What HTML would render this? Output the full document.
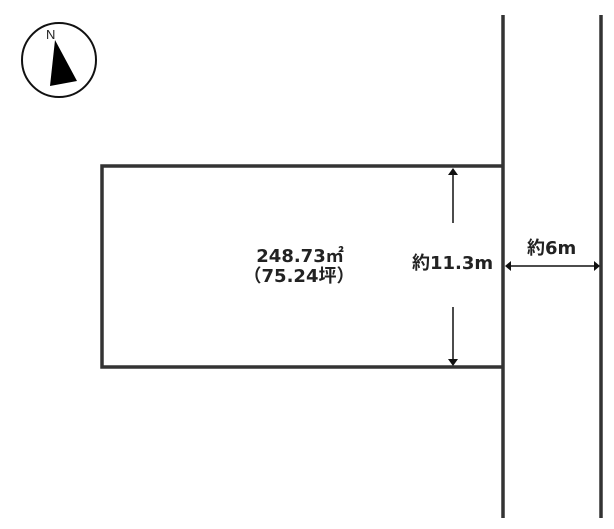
<!DOCTYPE html>
<html><head><meta charset="utf-8"><style>
html,body{margin:0;padding:0;background:#fff;width:614px;height:529px;overflow:hidden}
svg text{font-family:"DejaVu Sans","Noto Sans CJK JP",sans-serif;font-weight:bold;fill:#222}
</style></head><body>
<svg width="614" height="529" viewBox="0 0 614 529" xmlns="http://www.w3.org/2000/svg">
<circle cx="59" cy="60" r="37" fill="none" stroke="#111" stroke-width="2"/>
<polygon points="55,40 77,81 50,86" fill="#000"/>
<text x="46" y="39" font-size="13" style="font-weight:normal;font-family:'Liberation Sans',sans-serif">N</text>
<g stroke="#333" stroke-width="3.5" fill="none">
<polyline points="503,166 102,166 102,367 503,367"/>
<line x1="503" y1="15" x2="503" y2="518"/>
<line x1="601" y1="15" x2="601" y2="518"/>
</g>
<g stroke="#111" stroke-width="1.5">
<line x1="453" y1="172" x2="453" y2="223"/>
<line x1="453" y1="307" x2="453" y2="362"/>
<line x1="508" y1="266" x2="597" y2="266"/>
</g>
<g fill="#111">
<polygon points="453,168 448,175 458,175"/>
<polygon points="453,366 448,359 458,359"/>
<polygon points="505,266 511,261 511,271"/>
<polygon points="600,266 594,261 594,271"/>
</g>
<text x="300" y="262" font-size="18" text-anchor="middle">248.73㎡</text>
<text x="299" y="282" font-size="18" text-anchor="middle">（75.24坪）</text>
<text x="412" y="269" font-size="18">約11.3m</text>
<text x="527" y="254" font-size="18">約6m</text>
</svg>
</body></html>
